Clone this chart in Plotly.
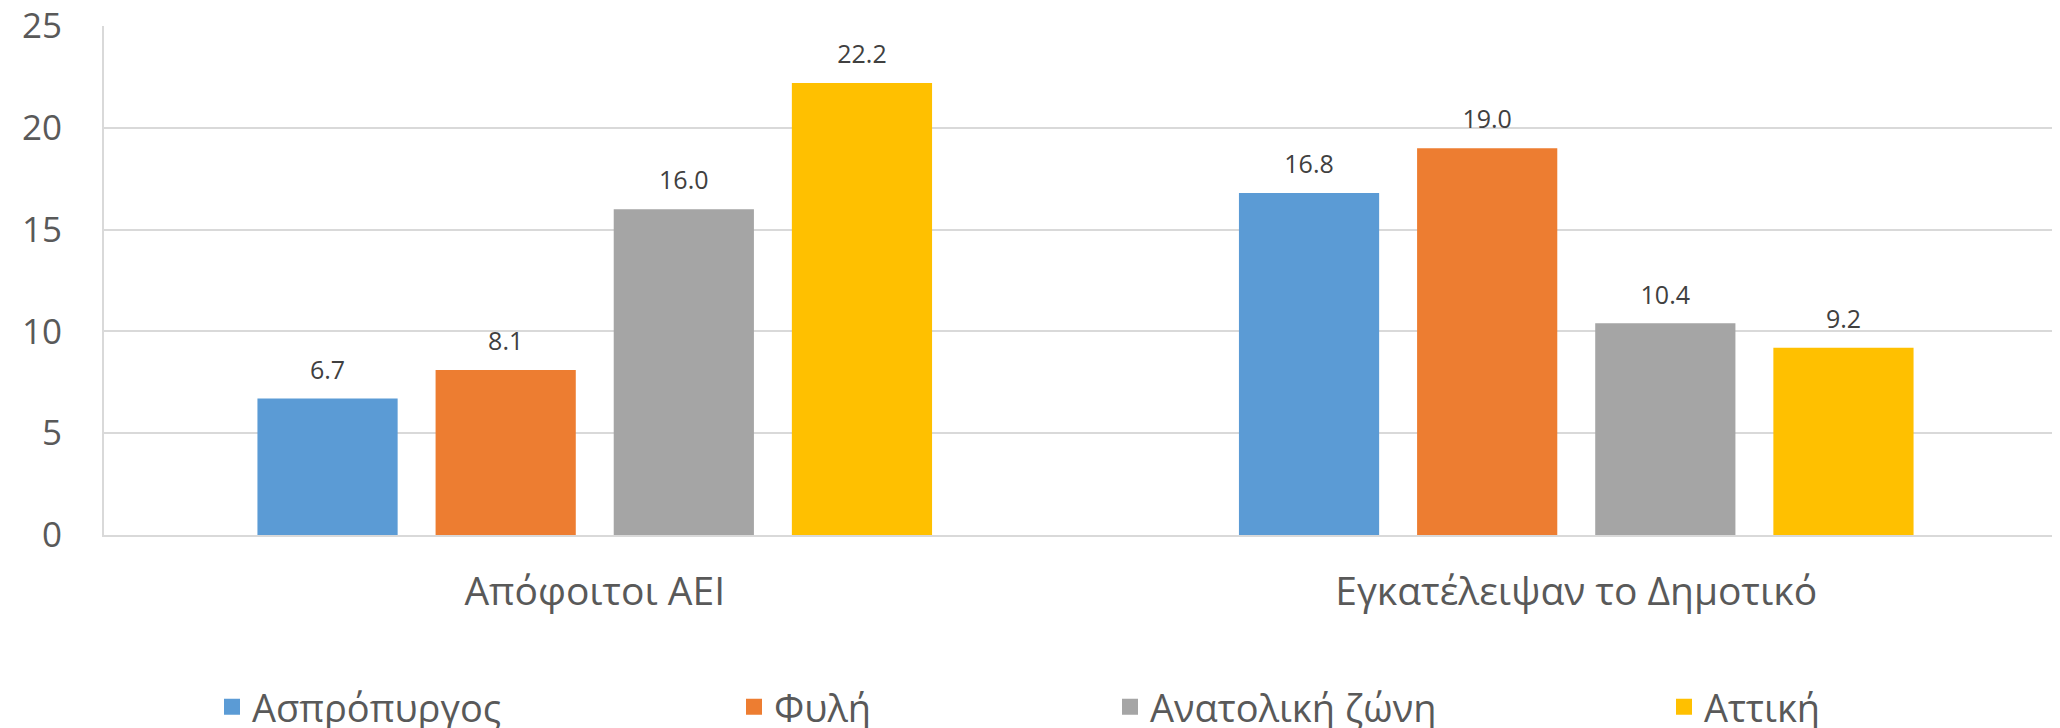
import plotly.graph_objects as go

categories = ["Απόφοιτοι ΑΕΙ", "Εγκατέλειψαν το Δημοτικό"]
series_names = ["Ασπρόπυργος", "Φυλή", "Ανατολική ζώνη", "Αττική"]
aspropyrgos = [6.7, 16.8]
fyli = [8.1, 19.0]
anatoliki_zoni = [16.0, 10.4]
attiki = [22.2, 9.2]
y_ticks = [0, 5, 10, 15, 20, 25]

series_values = [aspropyrgos, fyli, anatoliki_zoni, attiki]
colors = ["#5B9BD5", "#ED7D31", "#A5A5A5", "#FFC000"]
legend_square_px = [232, 754, 1130, 1684]

# page body has an 8px margin; figure sized to fit the window
OFF = 8
W, H = 2052, 720
FONT = "Open Sans"
TXT = "#595959"
GRID = "#D9D9D9"
BARGAP = 0.274

fig = go.Figure()
for i, (name, vals, col) in enumerate(zip(series_names, series_values, colors)):
    lg = "legend" if i == 0 else f"legend{i+1}"
    fig.add_trace(go.Bar(
        x=categories, y=vals, name=name, marker=dict(color=col, line=dict(width=0)),
        offsetgroup=str(i), showlegend=False, hoverinfo="skip",
    ))
    fig.add_trace(go.Scatter(
        x=categories, y=vals, mode="markers+text", orientation="v",
        text=[f"{v:.1f}" for v in vals], textposition="top center",
        textfont=dict(family=FONT, size=25, color="#404040"),
        marker=dict(size=20, opacity=0), offsetgroup=str(i),
        showlegend=False, hoverinfo="skip", cliponaxis=False,
    ))
    fig.add_trace(go.Scatter(
        x=[None], y=[None], mode="markers", name=name, orientation="v",
        marker=dict(symbol="square", size=24, color=col), offsetgroup=str(i),
        legend=lg, showlegend=True, hoverinfo="skip",
    ))

layout_legends = {}
for i, c in enumerate(legend_square_px):
    key = "legend" if i == 0 else f"legend{i+1}"
    layout_legends[key] = dict(
        x=(c - 20 - OFF) / W, xref="container", xanchor="left",
        y=1 - (707 - OFF) / H, yref="container", yanchor="middle",
        font=dict(family=FONT, size=38, color=TXT),
        bgcolor="rgba(0,0,0,0)", borderwidth=0, orientation="h",
        itemsizing="trace",
    )

plot_left, plot_top, plot_bottom = 104 - OFF, 26 - OFF, 535 - OFF
plot_w = W - plot_left
cat_px = 981.5
fig.update_layout(
    width=W, height=H,
    margin=dict(l=plot_left, r=0, t=plot_top, b=H - plot_bottom, pad=0, autoexpand=False),
    paper_bgcolor="white", plot_bgcolor="white",
    barmode="group", bargap=BARGAP, bargroupgap=0.213,
    scattermode="group", scattergap=BARGAP,
    font=dict(family=FONT, color=TXT),
    **layout_legends,
)
fig.update_xaxes(
    range=[-0.5, -0.5 + plot_w / cat_px],
    showline=True, linecolor=GRID, linewidth=2,
    showgrid=False, ticks="", ticklabelstandoff=21,
    tickfont=dict(family=FONT, size=39, color=TXT),
    ticklabeloverflow="allow", automargin=False, fixedrange=True,
)
fig.update_yaxes(
    range=[0, 25], tickvals=y_ticks,
    showline=True, linecolor=GRID, linewidth=2,
    showgrid=True, gridcolor=GRID, gridwidth=2,
    zeroline=False, ticks="", ticklabelstandoff=33,
    tickfont=dict(family=FONT, size=35, color=TXT),
    ticklabeloverflow="allow", automargin=False, fixedrange=True,
)
fig.write_html("out.html")
